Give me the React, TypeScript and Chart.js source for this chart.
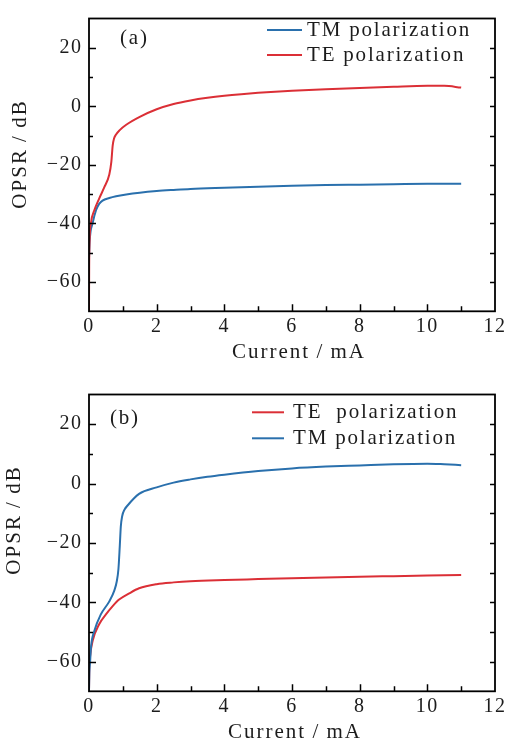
import React, { useEffect, useRef } from 'react';
import { Chart, registerables } from 'chart.js';

Chart.register(...registerables);

// ---------- data ----------
const xAxisLabels = [0, 2, 4, 6, 8, 10, 12];
const yAxisLabels = [20, 0, -20, -40, -60];

// panel (a)
const currentA_TE = [0, 0.005, 0.02, 0.06, 0.16, 0.3, 0.45, 0.6, 0.66, 0.7, 0.74, 0.8, 0.9, 1.1, 1.5, 2, 2.5, 3, 3.5, 4, 4.5, 5, 6, 7, 8, 9, 10, 10.5, 11];
const opsrA_TE = [-70, -55, -45, -39.6, -35.4, -31.5, -27.7, -23.3, -19, -13.4, -11, -9.6, -8.2, -6.3, -3.6, -1.0, 0.8, 2.0, 2.9, 3.6, 4.15, 4.6, 5.3, 5.85, 6.3, 6.7, 7.0, 7.0, 6.4];
const currentA_TM = [0, 0.02, 0.11, 0.21, 0.3, 0.4, 0.6, 0.8, 1.1, 1.5, 2, 2.5, 3, 4, 5, 6, 7, 8, 9, 10, 11];
const opsrA_TM = [-52, -46, -39.8, -35.4, -33.3, -32.2, -31.3, -30.7, -30.1, -29.5, -28.95, -28.55, -28.2, -27.8, -27.45, -27.15, -26.9, -26.75, -26.6, -26.45, -26.4];

// panel (b)
const currentB_TE = [0, 0.01, 0.03, 0.11, 0.3, 0.5, 0.7, 0.89, 1.19, 1.48, 2, 2.5, 3, 4, 5, 6, 7, 8, 9, 10, 11];
const opsrB_TE = [-70, -62, -58.4, -52.9, -47.4, -44.1, -41.3, -39.1, -37, -35.3, -33.9, -33.3, -32.9, -32.5, -32.2, -31.9, -31.65, -31.4, -31.2, -31.0, -30.8];
const currentB_TM = [0, 0.01, 0.03, 0.06, 0.16, 0.35, 0.6, 0.75, 0.82, 0.87, 0.91, 0.94, 0.98, 1.05, 1.14, 1.48, 2, 2.5, 3, 3.5, 4, 5, 6, 7, 8, 9, 10, 10.5, 11];
const opsrB_TM = [-70, -64, -60.5, -55, -49.6, -44.1, -39.7, -36, -33, -28.8, -21, -14.5, -11, -8.8, -7.4, -3.5, -1.3, 0.3, 1.4, 2.3, 3.0, 4.2, 5.1, 5.7, 6.1, 6.5, 6.7, 6.5, 6.2];

const legendA = ['TM polarization', 'TE polarization'];
const legendB = ['TE  polarization', 'TM polarization'];
const panelLabels = ['(a)', '(b)'];
const xTitle = 'Current\u2009/\u2009mA';
const yTitle = 'OPSR\u2009/\u2009dB';

const BLUE = '#2a70ad';
const RED = '#db2f36';
const TEXT = '#1c1c1c';
const FONT = '"Liberation Serif", "Times New Roman", serif';

type Series = { xs: number[]; ys: number[]; color: string; label: string };

function pairs(xs: number[], ys: number[]) {
  return xs.map((x, i) => ({ x, y: ys[i] }));
}

type PanelProps = {
  top: number;
  height: number;
  padTop: number;
  xAxisHeight: number;
  series: Series[];
  legend: { items: { label: string; color: string }[]; x1: number; x2: number; tx: number; ys: number[] };
  panelLabel: { text: string; x: number; y: number };
  xTitlePos: { x: number; y: number };
  yTitlePos: { x: number; y: number };
};

function Panel(p: PanelProps) {
  const ref = useRef<HTMLCanvasElement | null>(null);
  useEffect(() => {
    if (!ref.current) return;
    const decor = {
      id: 'decor',
      beforeDraw(chart: any) {
        const ctx = chart.ctx;
        ctx.save();
        ctx.fillStyle = '#ffffff';
        ctx.fillRect(0, 0, chart.width, chart.height);
        ctx.restore();
        (ctx as any).letterSpacing = '1.5px';
      },
      afterDatasetsDraw(chart: any) {
        const ctx = chart.ctx as CanvasRenderingContext2D;
        const { left, right, top, bottom } = chart.chartArea;
        const xs = chart.scales.x;
        const ys = chart.scales.y;
        ctx.save();
        ctx.strokeStyle = '#000';
        ctx.lineWidth = 1.5;
        ctx.beginPath();
        ys.ticks.forEach((t: any) => {
          const v = t.value;
          if (v <= ys.min || v >= ys.max) return;
          const py = Math.round(ys.getPixelForValue(v)) + 0.5;
          const major = v % 20 === 0;
          ctx.moveTo(left, py);
          ctx.lineTo(left + (major ? 7 : 4), py);
          ctx.moveTo(right, py);
          ctx.lineTo(right - 5, py);
        });
        xs.ticks.forEach((t: any) => {
          const v = t.value;
          if (v <= xs.min || v >= xs.max) return;
          const px = Math.round(xs.getPixelForValue(v)) + 0.5;
          const major = v % 2 === 0;
          ctx.moveTo(px, bottom);
          ctx.lineTo(px, bottom - (major ? 7 : 5));
        });
        ctx.stroke();
        ctx.lineWidth = 1.8;
        ctx.strokeRect(left, top, right - left, bottom - top);

        // legend
        const lg = p.legend;
        lg.items.forEach((it, i) => {
          const y = lg.ys[i];
          ctx.strokeStyle = it.color;
          ctx.lineWidth = 2;
          ctx.beginPath();
          ctx.moveTo(lg.x1, y);
          ctx.lineTo(lg.x2, y);
          ctx.stroke();
          ctx.fillStyle = TEXT;
          ctx.font = `21px ${FONT}`;
          (ctx as any).letterSpacing = '1.8px';
          ctx.textAlign = 'left';
          ctx.textBaseline = 'middle';
          ctx.fillText(it.label, lg.tx, y);
        });

        // panel label
        ctx.fillStyle = TEXT;
        ctx.font = `21px ${FONT}`;
        (ctx as any).letterSpacing = '1.8px';
        ctx.textAlign = 'left';
        ctx.textBaseline = 'middle';
        ctx.fillText(p.panelLabel.text, p.panelLabel.x, p.panelLabel.y);

        // axis titles
        ctx.font = `21px ${FONT}`;
        (ctx as any).letterSpacing = '2px';
        ctx.textAlign = 'center';
        ctx.textBaseline = 'middle';
        ctx.fillText(xTitle, p.xTitlePos.x, p.xTitlePos.y);
        ctx.translate(p.yTitlePos.x, p.yTitlePos.y);
        ctx.rotate(-Math.PI / 2);
        ctx.fillText(yTitle, 0, 0);
        ctx.restore();
        (ctx as any).letterSpacing = '1.5px';
      },
    };

    const chart = new Chart(ref.current, {
      type: 'line',
      data: {
        datasets: p.series.map((s) => ({
          label: s.label,
          data: pairs(s.xs, s.ys),
          borderColor: s.color,
          backgroundColor: s.color,
          borderWidth: 2,
          pointRadius: 0,
          fill: false,
          cubicInterpolationMode: 'monotone' as const,
        })),
      },
      options: {
        responsive: false,
        animation: false,
        devicePixelRatio: 1,
        layout: { padding: { top: p.padTop, right: 12, left: 0, bottom: 0 } },
        plugins: { legend: { display: false }, tooltip: { enabled: false } },
        scales: {
          x: {
            type: 'linear',
            min: 0,
            max: 12,
            grid: { display: false, drawTicks: false },
            border: { display: false },
            ticks: {
              stepSize: 1,
              autoSkip: false,
              maxRotation: 0,
              padding: 3,
              color: TEXT,
              font: { family: FONT, size: 20 },
              callback: (v: any) => (xAxisLabels.includes(Number(v)) ? String(v) : ''),
            },
            afterFit: (s: any) => {
              s.height = p.xAxisHeight;
            },
          },
          y: {
            type: 'linear',
            min: -70,
            max: 30,
            grid: { display: false, drawTicks: false },
            border: { display: false },
            ticks: {
              stepSize: 10,
              autoSkip: false,
              padding: 6.5,
              color: TEXT,
              font: { family: FONT, size: 20 },
              callback: (v: any) => {
                const n = Number(v);
                if (!yAxisLabels.includes(n)) return '';
                return n < 0 ? '\u2212' + Math.abs(n) : String(n);
              },
            },
            afterFit: (s: any) => {
              s.width = 89;
            },
          },
        },
      },
      plugins: [decor],
    } as any);
    return () => chart.destroy();
  }, []);
  return (
    <canvas
      ref={ref}
      width={508}
      height={p.height}
      style={{ position: 'absolute', left: 0, top: p.top, width: 508, height: p.height, display: 'block' }}
    />
  );
}

export default function App() {
  return (
    <div style={{ position: 'absolute', left: 0, top: 0, width: 508, height: 747, background: '#fff', overflow: 'hidden' }}>
      <Panel
        top={0}
        height={370}
        padTop={7.3}
        xAxisHeight={58.7}
        series={[
          { xs: currentA_TE, ys: opsrA_TE, color: RED, label: legendA[1] },
          { xs: currentA_TM, ys: opsrA_TM, color: BLUE, label: legendA[0] },
        ]}
        legend={{
          items: [
            { label: legendA[0], color: BLUE },
            { label: legendA[1], color: RED },
          ],
          x1: 267,
          x2: 302,
          tx: 307,
          ys: [30, 55],
        }}
        panelLabel={{ text: panelLabels[0], x: 120, y: 38 }}
        xTitlePos={{ x: 299, y: 352.5 }}
        yTitlePos={{ x: 20, y: 154 }}
      />
      <Panel
        top={376}
        height={371}
        padTop={12}
        xAxisHeight={55.7}
        series={[
          { xs: currentB_TM, ys: opsrB_TM, color: BLUE, label: legendB[1] },
          { xs: currentB_TE, ys: opsrB_TE, color: RED, label: legendB[0] },
        ]}
        legend={{
          items: [
            { label: legendB[0], color: RED },
            { label: legendB[1], color: BLUE },
          ],
          x1: 252,
          x2: 284,
          tx: 293,
          ys: [36.3, 62.3],
        }}
        panelLabel={{ text: panelLabels[1], x: 110, y: 42 }}
        xTitlePos={{ x: 295, y: 356.5 }}
        yTitlePos={{ x: 14, y: 144 }}
      />
    </div>
  );
}
